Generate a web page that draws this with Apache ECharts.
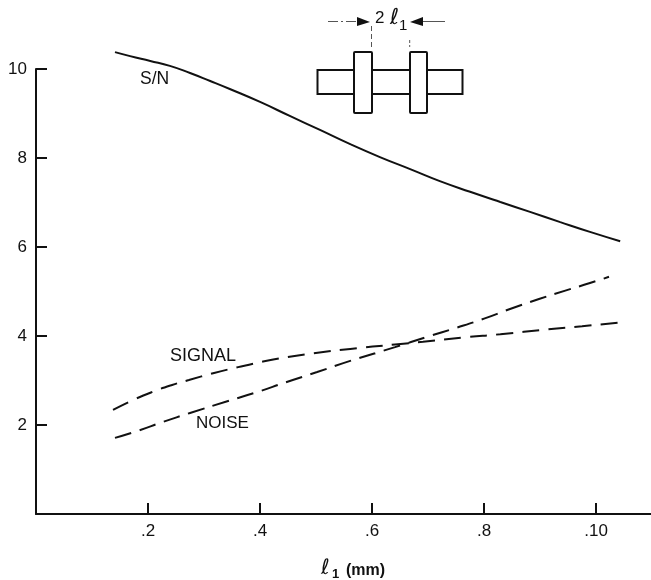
<!DOCTYPE html>
<html><head><meta charset="utf-8">
<style>html,body{margin:0;padding:0;background:#fff}#c{width:651px;height:580px}</style>
<script src="https://cdn.jsdelivr.net/npm/echarts@6/dist/echarts.min.js"></script>
</head><body><div id="c"></div>
<script>
var xTickValues=[0.2,0.4,0.6,0.8,1.0];
var xTickLabels=['.2','.4','.6','.8','.10'];
var yTickValues=[2,4,6,8,10];
var snX=[.141,.168,.204,.239,.275,.311,.346,.40,.454,.507,.561,.614,.668,.721,.775,.829,.882,.936,.989,1.043];
var snY=[10.38,10.29,10.18,10.07,9.91,9.73,9.55,9.26,8.94,8.63,8.31,8.02,7.75,7.48,7.24,7.01,6.79,6.56,6.34,6.13];
var signalX=[.1375,.173,.207,.243,.273,.318,.361,.396,.441,.495,.561,.641,.691,.766,.829,.913,.975,1.046];
var signalY=[2.34,2.56,2.74,2.90,3.01,3.17,3.30,3.40,3.51,3.61,3.71,3.81,3.87,3.97,4.04,4.15,4.22,4.31];
var noiseX=[.141,.182,.227,.275,.343,.395,.446,.502,.561,.641,.698,.752,.80,.845,.898,.945,.989,1.023];
var noiseY=[1.71,1.87,2.07,2.27,2.54,2.74,2.96,3.19,3.44,3.75,3.98,4.19,4.39,4.60,4.83,5.02,5.19,5.33];

function zip(a,b){return a.map(function(v,i){return [v,b[i]];});}
var INK='#111';
var FONT='"Liberation Sans",Arial,sans-serif';
function lineSeries(name,xs,ys,dash){
  return {name:name,type:'line',data:zip(xs,ys),showSymbol:false,symbol:'none',smooth:0.5,clip:false,
    lineStyle:{color:INK,width:2,type:dash||'solid'},animation:false};
}
function box(x,y,w,h,r){return {type:'rect',shape:{x:x,y:y,width:w,height:h,r:r||0},style:{fill:'#fff',stroke:INK,lineWidth:2},z:10};}
function txt(x,y,t,size,font,weight){return {type:'text',x:x,y:y,z:11,style:{text:t,fill:INK,font:(weight?weight+' ':'')+(size||16)+'px '+(font||FONT),textVerticalAlign:'middle'}};}
function seg(x1,y1,x2,y2,dash){return {type:'line',shape:{x1:x1,y1:y1,x2:x2,y2:y2},z:9,style:{stroke:'#555',lineWidth:1,lineDash:dash}};}
function head(pts){return {type:'polygon',shape:{points:pts},z:11,style:{fill:INK}};}

var chart=echarts.init(document.getElementById('c'),null,{renderer:'canvas'});
chart.setOption({
  animation:false,
  backgroundColor:'#fff',
  grid:{left:36,top:69,width:615,height:445,containLabel:false},
  xAxis:{type:'value',min:0,max:1.098,splitLine:{show:false},
    axisLine:{show:true,onZero:false,lineStyle:{color:INK,width:2}},
    axisTick:{show:true,inside:true,length:11,customValues:xTickValues,lineStyle:{color:INK,width:2}},
    axisLabel:{show:true,margin:9,customValues:xTickValues,color:INK,fontFamily:FONT,fontSize:17,
      formatter:function(v){var i=xTickValues.findIndex(function(t){return Math.abs(t-v)<1e-6;});return i<0?'':xTickLabels[i];}}
  },
  yAxis:{type:'value',min:0,max:10,splitLine:{show:false},
    axisLine:{show:true,onZero:false,lineStyle:{color:INK,width:2}},
    axisTick:{show:true,inside:true,length:11,customValues:yTickValues,lineStyle:{color:INK,width:2}},
    axisLabel:{show:true,margin:9,customValues:yTickValues,color:INK,fontFamily:FONT,fontSize:17,padding:[0,0,3,0]}
  },
  series:[lineSeries('S/N',snX,snY),lineSeries('SIGNAL',signalX,signalY,[17,9.2]),lineSeries('NOISE',noiseX,noiseY,[17,8.7])],
  graphic:[
    txt(140,79,'S/N',17.5),
    txt(170,356,'SIGNAL',18),
    txt(196,423,'NOISE',17),
    txt(321,569,'\u2113',21,'"DejaVu Sans"'),
    txt(332,574,'1',13,FONT,'bold'),
    txt(346,571,'(mm)',16,FONT,'bold'),
    box(317.5,70,145,24),
    box(354,52,18,61,1),
    box(410,52,17,61,1),
    seg(328,21.5,358,21.5,[10,3,2,3]),
    seg(423,21.5,445,21.5),
    seg(371.5,26,371.5,47,[5,3]),
    seg(409.7,40,409.7,47,[3,2]),
    head([[357,17],[370,22],[357,26]]),
    head([[410,22],[423,17],[423,26]]),
    txt(375,18,'2',17),
    txt(390,18,'\u2113',22,'"DejaVu Sans"'),
    txt(399,26,'1',15)
  ]
});
</script></body></html>
